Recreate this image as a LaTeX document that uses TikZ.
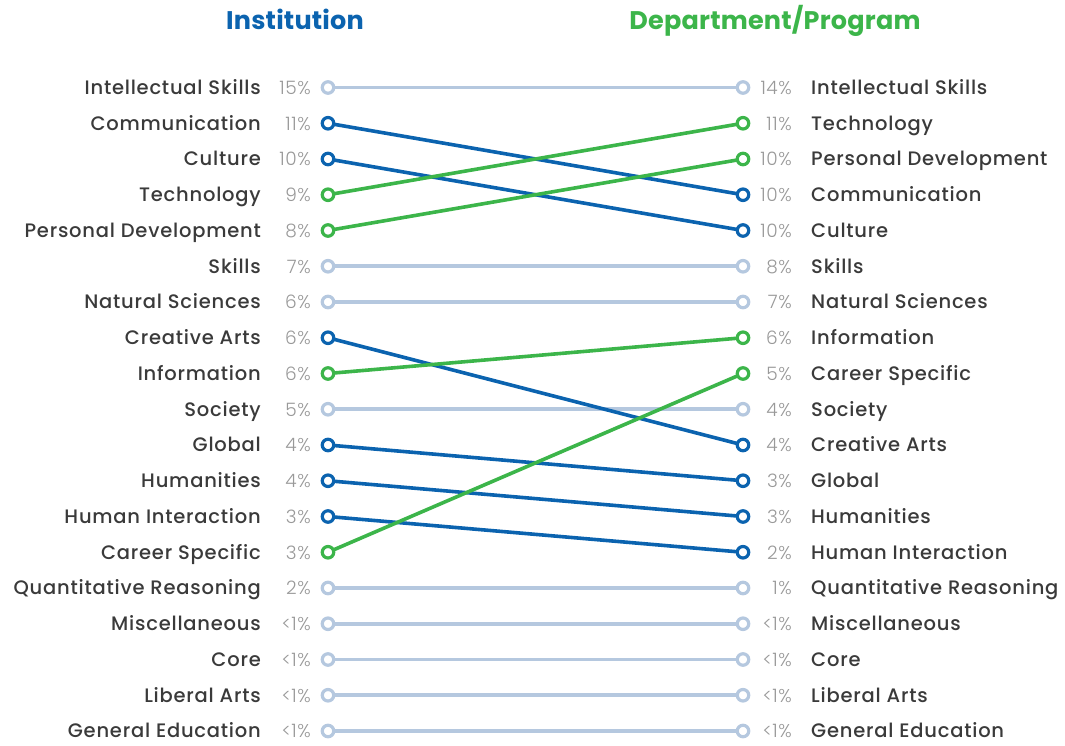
\documentclass[tikz,border=0pt]{standalone}
\usepackage{fontspec}
\setmainfont{Poppins}
\newfontfamily\labfont{Poppins Medium}[LetterSpace=4]
\newfontfamily\pctfont{Poppins Light}[LetterSpace=3]
\newfontfamily\titfont{Poppins Bold}[LetterSpace=0.8]
\definecolor{dblue}{HTML}{0B63AF}
\definecolor{dgreen}{HTML}{3CB54A}
\definecolor{lgray}{HTML}{B5C8DF}
\definecolor{labgray}{HTML}{3A3A3A}
\definecolor{pctgray}{HTML}{999999}
\tikzset{
  conn/.style={line width=3.6pt},
  dot/.style={circle, draw=#1, fill=white, line width=3.2pt, minimum size=11.5pt, inner sep=0pt},
  lab/.style={font=\labfont\fontsize{19.5}{22}\selectfont, text=labgray, inner sep=0pt, text depth=0pt},
  pct/.style={font=\pctfont\fontsize{18.5}{22}\selectfont, text=pctgray, inner sep=0pt, text depth=0pt},
  tit/.style={font=\titfont\fontsize{25.5}{28}\selectfont, inner sep=0pt},
}
\begin{document}
\begin{tikzpicture}[x=1pt,y=-1pt]
\useasboundingbox (0,0) rectangle (1065,746);
\node[tit, text=dblue, anchor=base] (tI) at (295,30) {Institution};
\node[tit, text=dgreen, anchor=base] (tD) at (775,30) {Department/Program};
% coordinates
\foreach \i in {0,...,18} {
  \pgfmathsetmacro{\yy}{87.5+35.75*\i}
  \coordinate (L\i) at (328,\yy);
  \coordinate (R\i) at (743,\yy);
}
% left labels
\foreach \i/\t/\p in {0/Intellectual Skills/15\%,1/Communication/11\%,2/Culture/10\%,3/Technology/9\%,4/Personal Development/8\%,5/Skills/7\%,6/Natural Sciences/6\%,7/Creative Arts/6\%,8/Information/6\%,9/Society/5\%,10/Global/4\%,11/Humanities/4\%,12/Human Interaction/3\%,13/Career Specific/3\%,14/Quantitative Reasoning/2\%,15/Miscellaneous/<1\%,16/Core/<1\%,17/Liberal Arts/<1\%,18/General Education/<1\%} {
  \node[lab, anchor=base east] (ll\i) at ([shift={(-67,6.8)}]L\i) {\t};
  \node[pct, anchor=base east] (lp\i) at ([shift={(-17,6.8)}]L\i) {\p};
}
% right labels
\foreach \i/\t/\p in {0/Intellectual Skills/14\%,1/Technology/11\%,2/Personal Development/10\%,3/Communication/10\%,4/Culture/10\%,5/Skills/8\%,6/Natural Sciences/7\%,7/Information/6\%,8/Career Specific/5\%,9/Society/4\%,10/Creative Arts/4\%,11/Global/3\%,12/Humanities/3\%,13/Human Interaction/2\%,14/Quantitative Reasoning/1\%,15/Miscellaneous/<1\%,16/Core/<1\%,17/Liberal Arts/<1\%,18/General Education/<1\%} {
  \node[lab, anchor=base west] (rl\i) at ([shift={(68,6.8)}]R\i) {\t};
  \node[pct, anchor=base east] (rp\i) at ([shift={(49,6.8)}]R\i) {\p};
}
% connectors: light first, then blue, then green
\foreach \a/\b in {0/0,5/5,6/6,9/9,14/14,15/15,16/16,17/17,18/18}
  \draw[conn, lgray] (L\a) -- (R\b);
\foreach \a/\b in {1/3,2/4,7/10,10/11,11/12,12/13}
  \draw[conn, dblue] (L\a) -- (R\b);
\foreach \a/\b in {3/1,4/2,8/7,13/8}
  \draw[conn, dgreen] (L\a) -- (R\b);
% dots
\foreach \a/\b in {0/0,5/5,6/6,9/9,14/14,15/15,16/16,17/17,18/18} {
  \node[dot=lgray] (dl\a) at (L\a) {};
  \node[dot=lgray] (dr\b) at (R\b) {};
}
\foreach \a/\b in {1/3,2/4,7/10,10/11,11/12,12/13} {
  \node[dot=dblue] (dl\a) at (L\a) {};
  \node[dot=dblue] (dr\b) at (R\b) {};
}
\foreach \a/\b in {3/1,4/2,8/7,13/8} {
  \node[dot=dgreen] (dl\a) at (L\a) {};
  \node[dot=dgreen] (dr\b) at (R\b) {};
}
\end{tikzpicture}
\end{document}
